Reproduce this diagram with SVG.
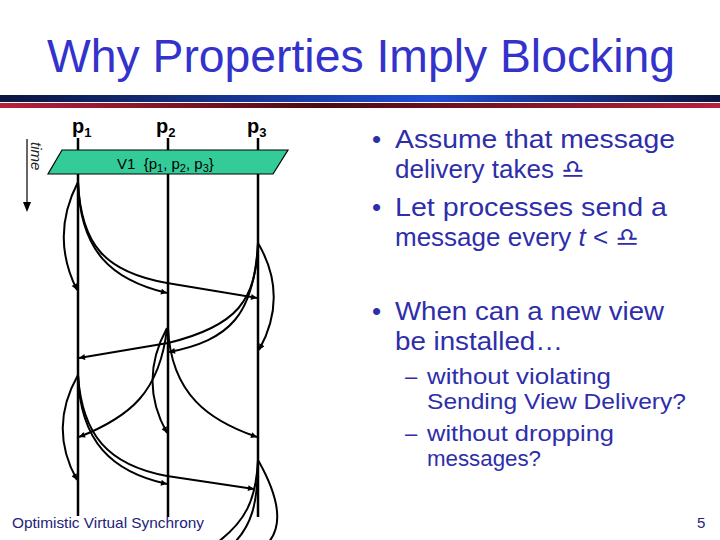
<svg xmlns="http://www.w3.org/2000/svg" width="720" height="540" viewBox="0 0 720 540">
<defs>
<linearGradient id="gBlue" x1="0" y1="0" x2="1" y2="0">
<stop offset="0" stop-color="#0b1640"/>
<stop offset="0.6" stop-color="#1f4fd6"/>
<stop offset="1" stop-color="#0b1640"/>
</linearGradient>
<linearGradient id="gRed" x1="0" y1="0" x2="1" y2="0">
<stop offset="0" stop-color="#b8203c"/>
<stop offset="0.45" stop-color="#4a0a14"/>
<stop offset="1" stop-color="#b8203c"/>
</linearGradient>
<marker id="ah" viewBox="0 0 10 10" refX="10" refY="5" markerWidth="8" markerHeight="6" markerUnits="userSpaceOnUse" orient="auto">
<path d="M0,0 L10,5 L0,10 z" fill="#000"/>
</marker>
</defs>
<style>
.title{font-family:"Liberation Sans",Arial,sans-serif;font-size:46px;fill:#3333cc}
.bul{font-family:"Liberation Sans",Arial,sans-serif;font-size:26px;fill:#2e2eaa}
.sub{font-family:"Liberation Sans",Arial,sans-serif;font-size:22px;fill:#2e2eaa}
.sym{font-family:"DejaVu Sans",sans-serif}
.plabel{font-family:"Liberation Sans",Arial,sans-serif;font-size:20px;font-weight:bold;fill:#000}
.ps{font-size:13px}
.proc{stroke:#000;stroke-width:2.5;fill:none}
.msg{stroke:#000;stroke-width:2;fill:none}
.arr{marker-end:url(#ah)}
.foot{font-family:"Liberation Sans",Arial,sans-serif;font-size:15px;fill:#23237a}
</style>
<rect width="720" height="540" fill="#fff"/>
<g id="header">
<text class="title" x="47" y="72" textLength="628" lengthAdjust="spacingAndGlyphs">Why Properties Imply Blocking</text>
<rect x="0" y="95" width="720" height="7" fill="url(#gBlue)"/>
<rect x="0" y="103" width="720" height="5" fill="url(#gRed)"/>
</g>
<g id="time-axis">
<line x1="27" y1="139" x2="27" y2="203" stroke="#000" stroke-width="1.2"/>
<path d="M23,202 L27,212 L31,202 z" fill="#000"/>
<text x="31" y="142" transform="rotate(90 31 142)" font-family="Liberation Sans,Arial,sans-serif" font-size="15" font-style="italic" fill="#222">time</text>
</g>
<g id="p1">
<text class="plabel" x="72" y="133">p<tspan class="ps" dy="4">1</tspan></text>
<line class="proc" x1="78" y1="138" x2="78" y2="516"/>
</g>
<g id="p2">
<text class="plabel" x="156" y="133">p<tspan class="ps" dy="4">2</tspan></text>
<line class="proc" x1="168" y1="138" x2="168" y2="517"/>
</g>
<g id="p3">
<text class="plabel" x="247" y="133">p<tspan class="ps" dy="4">3</tspan></text>
<line class="proc" x1="258" y1="138" x2="258" y2="517"/>
</g>
<g id="view-v1">
<polygon points="62,150 288,150 273,174 48,174" fill="#33cc99" stroke="#000" stroke-width="1.2"/>
<text x="117" y="169" font-family="Liberation Sans,Arial,sans-serif" font-size="15" fill="#000" xml:space="preserve">V1  {p<tspan font-size="11" dy="3">1</tspan><tspan dy="-3">, p</tspan><tspan font-size="11" dy="3">2</tspan><tspan dy="-3">, p</tspan><tspan font-size="11" dy="3">3</tspan><tspan dy="-3">}</tspan></text>
</g>
<g id="connectors">
<path class="msg arr" d="M78,182 Q50,236 77,290"/>
<path class="msg arr" d="M78,182 C80,252 112,280 167,293"/>
<path class="msg arr" d="M78,182 C81,245 105,272 167,283 L257,298"/>
<path class="msg arr" d="M258,243 Q289,296 259,350"/>
<path class="msg arr" d="M258,243 C254,315 230,340 169,352"/>
<path class="msg arr" d="M258,243 C256,300 238,326 168,343 L79,358"/>
<path class="msg arr" d="M167,328 Q138,381 167,433"/>
<path class="msg arr" d="M167,328 C160,392 130,417 79,437"/>
<path class="msg arr" d="M168,328 C171,395 210,421 257,437"/>
<path class="msg arr" d="M78,375 Q48,428 77,480"/>
<path class="msg arr" d="M78,375 C80,442 112,472 167,484"/>
<path class="msg arr" d="M78,375 C82,435 108,465 167,476 L254,489"/>
<path class="msg" d="M258,460 Q292,520 266,545"/>
<path class="msg" d="M258,460 C256,500 246,522 214,545"/>
<path class="msg" d="M258,460 C258,505 251,527 232,545"/>
</g>
<g id="bullets">
<text class="bul" x="372" y="148">•</text>
<text class="bul" x="395" y="148" textLength="280" lengthAdjust="spacingAndGlyphs">Assume that message</text>
<text class="bul" x="395" y="178">delivery takes <tspan class="sym">♎︎</tspan></text>
<text class="bul" x="372" y="216">•</text>
<text class="bul" x="395" y="216" textLength="272" lengthAdjust="spacingAndGlyphs">Let processes send a</text>
<text class="bul" x="395" y="246">message every <tspan font-style="italic">t</tspan> &lt; <tspan class="sym">♎︎</tspan></text>
<text class="bul" x="372" y="320">•</text>
<text class="bul" x="395" y="320" textLength="269" lengthAdjust="spacingAndGlyphs">When can a new view</text>
<text class="bul" x="395" y="350" textLength="168" lengthAdjust="spacingAndGlyphs">be installed…</text>
<text class="sub" x="405" y="384">–</text>
<text class="sub" x="427" y="384" textLength="184" lengthAdjust="spacingAndGlyphs">without violating</text>
<text class="sub" x="427" y="409" textLength="259" lengthAdjust="spacingAndGlyphs">Sending View Delivery?</text>
<text class="sub" x="405" y="441">–</text>
<text class="sub" x="427" y="441" textLength="187" lengthAdjust="spacingAndGlyphs">without dropping</text>
<text class="sub" x="427" y="466" textLength="114" lengthAdjust="spacingAndGlyphs">messages?</text>
</g>
<g id="footer">
<text class="foot" x="12" y="528" textLength="192" lengthAdjust="spacingAndGlyphs">Optimistic Virtual Synchrony</text>
<text class="foot" x="697" y="528" fill="#000">5</text>
</g>
</svg>
